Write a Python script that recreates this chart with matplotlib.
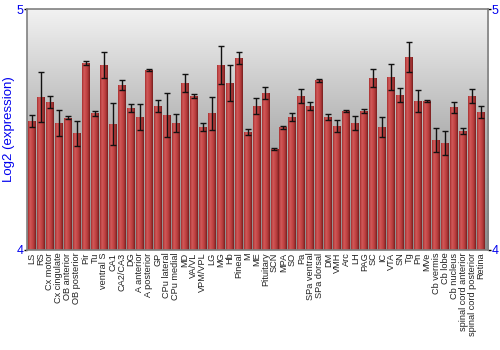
#!/usr/bin/python
# Log2 expression per brain region, bar chart with error bars
import numpy as np
import matplotlib
matplotlib.use('Agg')
import matplotlib.pyplot as plt
from matplotlib.colors import LinearSegmentedColormap

regions = ['LS', 'RS', 'Cx motor', 'Cx cingulate', 'OB anterior', 'OB posterior',
           'Pir', 'Tu', 'ventral S', 'CA1', 'CA2/CA3', 'DG', 'A anterior',
           'A posterior', 'GP', 'CPu lateral', 'CPu medial', 'MD', 'VA/VL',
           'VPM/VPL', 'LG', 'MG', 'Hb', 'Pineal', 'M', 'ME', 'Pituitary', 'SCN',
           'MPA', 'SO', 'Pa', 'SPa ventral', 'SPa dorsal', 'DM', 'VMH', 'Arc',
           'LH', 'PAG', 'SC', 'IC', 'VTA', 'SN', 'Tg', 'Pn', 'MVe', 'Cb vermis',
           'Cb lobe', 'Cb nucleus', 'spinal cord anterior', 'spinal cord posterior',
           'Retina']

values = [4.535, 4.635, 4.614, 4.527, 4.548, 4.485, 4.776, 4.568, 4.768, 4.523,
          4.683, 4.589, 4.552, 4.747, 4.598, 4.560, 4.527, 4.693, 4.639, 4.510,
          4.568, 4.768, 4.693, 4.797, 4.490, 4.598, 4.651, 4.419, 4.510, 4.552,
          4.639, 4.598, 4.705, 4.552, 4.515, 4.577, 4.527, 4.577, 4.714, 4.510,
          4.718, 4.643, 4.801, 4.618, 4.618, 4.456, 4.444, 4.593, 4.494, 4.639,
          4.573]

errors = [0.025, 0.104, 0.025, 0.056, 0.006, 0.052, 0.008, 0.010, 0.054, 0.087,
          0.021, 0.015, 0.052, 0.004, 0.025, 0.093, 0.037, 0.039, 0.008, 0.017,
          0.068, 0.079, 0.075, 0.025, 0.012, 0.033, 0.025, 0.003, 0.006, 0.015,
          0.029, 0.017, 0.006, 0.012, 0.025, 0.006, 0.027, 0.008, 0.039, 0.043,
          0.052, 0.029, 0.064, 0.046, 0.003, 0.050, 0.050, 0.023, 0.012, 0.031,
          0.025]

blue = '#0000ee'
plt.rcParams['font.family'] = ['Liberation Sans', 'DejaVu Sans']

fig = plt.figure(figsize=(5, 3.5), dpi=100)
ax = fig.add_axes([0.054, 0.286, 0.922, 0.688])

x = np.arange(len(regions))
x_lo, x_hi = -0.556, 50.78
y_lo, y_hi = 4.0, 5.0
ax.set_xlim(x_lo, x_hi)
ax.set_ylim(y_lo, y_hi)

# background: light at top, gray at bottom
bg = LinearSegmentedColormap.from_list('bg', ['#8c8c8c', '#b4b4b4', '#f2f2f2'])
ax.imshow(np.linspace(0, 1, 256).reshape(-1, 1), cmap=bg, origin='lower',
          extent=(x_lo, x_hi, y_lo, y_hi), aspect='auto', zorder=0)

# bars with a horizontal red gradient
red = LinearSegmentedColormap.from_list('red', ['#a83030', '#d05a5a', '#c84848',
                                                '#b03a3a', '#7a1e1e'])
grad = np.linspace(0, 1, 32).reshape(1, -1)
width = 0.88
bars = ax.bar(x, np.array(values) - y_lo, width=width, bottom=y_lo,
              color='none', edgecolor='none', zorder=2)
for b in bars:
    im = ax.imshow(grad, cmap=red, aspect='auto', zorder=2,
                   extent=(b.get_x(), b.get_x() + b.get_width(), y_lo,
                           y_lo + b.get_height()))
    im.set_clip_path(b)

ax.errorbar(x, values, yerr=errors, fmt='none', ecolor='#111111',
            elinewidth=1.0, capsize=2, capthick=1.0, zorder=3)

ax.set_yticks([4, 5])
ax.tick_params(axis='y', colors='black', labelcolor=blue, labelsize=9,
               length=2, width=1, right=True, labelright=True, pad=0.5)
ax.set_xticks(x)
ax.set_xticklabels(regions, rotation=90, fontsize=6.6, color='#222222')
ax.tick_params(axis='x', length=0, pad=2)
ax.set_ylabel('Log2 (expression)', color=blue, fontsize=9.5, labelpad=1)

for s in ax.spines.values():
    s.set_color('#808080')
    s.set_linewidth(1.2)

fig.savefig('out.png', dpi=100)
